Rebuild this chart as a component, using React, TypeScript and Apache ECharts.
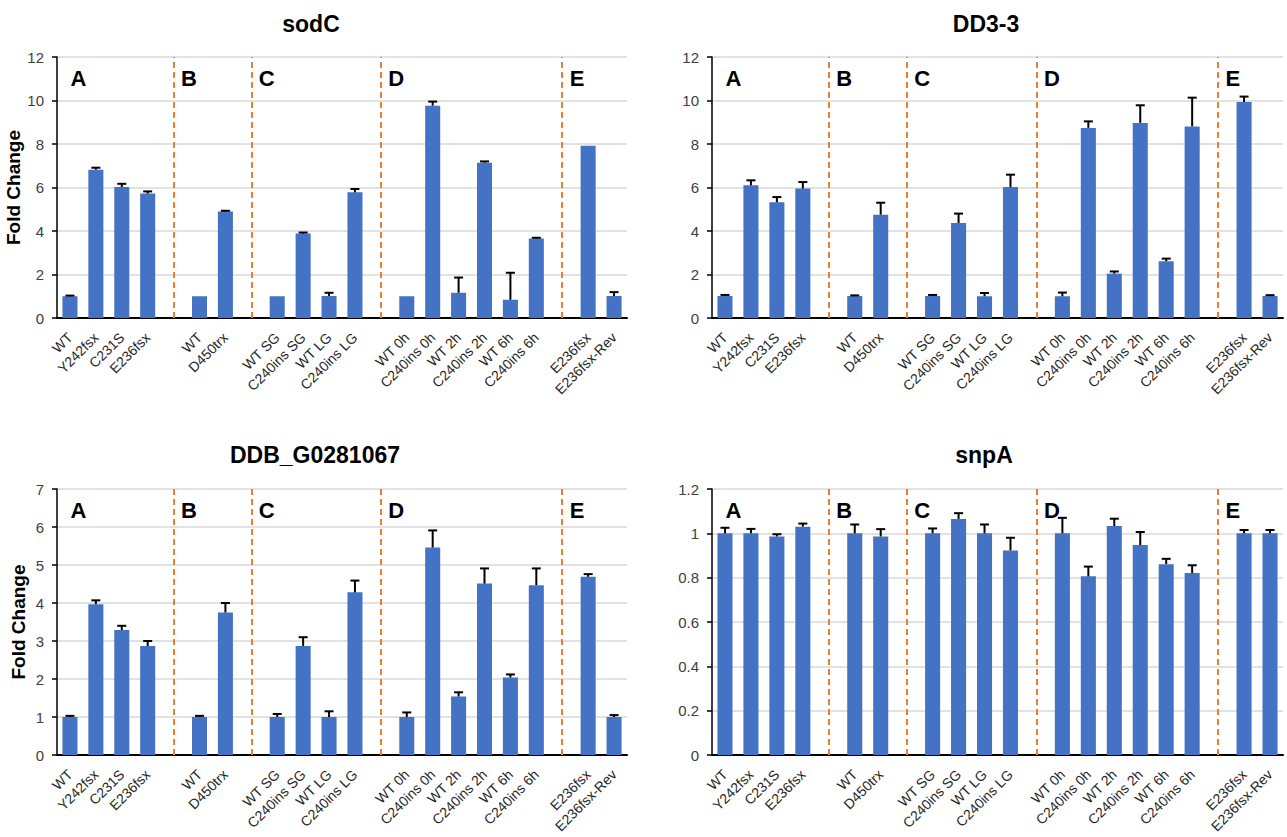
import React, { useEffect, useRef } from 'react';
import * as echarts from 'echarts';

const categories = ['WT', 'Y242fsx', 'C231S', 'E236fsx', '', 'WT', 'D450trx', '', 'WT SG', 'C240ins SG', 'WT LG', 'C240ins LG', '', 'WT 0h', 'C240ins 0h', 'WT 2h', 'C240ins 2h', 'WT 6h', 'C240ins 6h', '', 'E236fsx', 'E236fsx-Rev'];

const groupLetters = ['A', 'B', 'C', 'D', 'E'];
const groupLetterIndices = [0, 4, 7, 12, 19];
const dividerIndices = [4, 7, 12, 19];

const sodCValues = [1.0, 6.82, 6.02, 5.72, null, 1.0, 4.9, null, 1.0, 3.88, 1.01, 5.78, null, 1.0, 9.76, 1.16, 7.14, 0.84, 3.65, null, 7.92, 1.01];
const sodCErrors = [0.03, 0.09, 0.15, 0.1, null, 0, 0.03, null, 0, 0.05, 0.15, 0.15, null, 0, 0.19, 0.7, 0.06, 1.24, 0.04, null, 0, 0.18];

const dd33Values = [1.01, 6.1, 5.32, 5.95, null, 1.01, 4.75, null, 1.01, 4.37, 1.0, 6.02, null, 1.0, 8.74, 2.04, 8.97, 2.61, 8.81, null, 9.93, 1.01];
const dd33Errors = [0.05, 0.23, 0.24, 0.3, null, 0.03, 0.55, null, 0.05, 0.43, 0.15, 0.57, null, 0.17, 0.3, 0.1, 0.81, 0.12, 1.32, null, 0.25, 0.04];

const ddbValues = [1.0, 3.97, 3.29, 2.87, null, 1.0, 3.75, null, 1.0, 2.87, 1.0, 4.28, null, 1.0, 5.46, 1.54, 4.51, 2.04, 4.47, null, 4.69, 1.0];
const ddbErrors = [0.03, 0.1, 0.11, 0.13, null, 0.03, 0.25, null, 0.08, 0.23, 0.15, 0.31, null, 0.12, 0.45, 0.11, 0.4, 0.08, 0.44, null, 0.07, 0.05];

const snpAValues = [1.0, 1.0, 0.986, 1.03, null, 1.0, 0.986, null, 1.0, 1.065, 1.0, 0.923, null, 1.0, 0.806, 1.033, 0.947, 0.861, 0.821, null, 1.0, 1.0];
const snpAErrors = [0.025, 0.02, 0.01, 0.014, null, 0.04, 0.033, null, 0.022, 0.026, 0.04, 0.057, null, 0.07, 0.044, 0.033, 0.059, 0.024, 0.035, null, 0.015, 0.015];

const panelTitles = ['sodC', 'DD3-3', 'DDB_G0281067', 'snpA'];
const panelYMax = [12, 12, 7, 1.2];
const panelYInterval = [2, 2, 1, 0.2];

const FONT = "'Liberation Sans', Arial, sans-serif";

export default function App() {
  const ref = useRef<HTMLDivElement>(null);
  useEffect(() => {
    document.body.style.margin = '0';
    const chart = echarts.init(ref.current!, null, { renderer: 'svg' });
    const panelValues = [sodCValues, dd33Values, ddbValues, snpAValues];
    const panelErrors = [sodCErrors, dd33Errors, ddbErrors, snpAErrors];
    const grids = [
      { left: 57, top: 57, width: 570, height: 261, outerBoundsMode: 'none', containLabel: false },
      { left: 712, top: 57, width: 571, height: 261, outerBoundsMode: 'none', containLabel: false },
      { left: 57, top: 489, width: 570, height: 266, outerBoundsMode: 'none', containLabel: false },
      { left: 712, top: 489, width: 571, height: 266, outerBoundsMode: 'none', containLabel: false },
    ];
    const titlePos = [
      { left: 311, top: 12 },
      { left: 986, top: 12 },
      { left: 315, top: 443 },
      { left: 984, top: 443 },
    ];
    const xAxes: any[] = [];
    const yAxes: any[] = [];
    const series: any[] = [];
    for (let p = 0; p < 4; p++) {
      xAxes.push({
        type: 'category',
        gridIndex: p,
        data: categories,
        axisLine: { lineStyle: { color: '#000', width: 2 } },
        axisTick: { show: false },
        axisLabel: { interval: 0, rotate: 45, fontSize: 14, color: '#262626', fontFamily: FONT, margin: 17 },
        splitLine: { show: false },
      });
      yAxes.push({
        type: 'value',
        gridIndex: p,
        min: 0,
        max: panelYMax[p],
        interval: panelYInterval[p],
        name: p % 2 === 0 ? 'Fold Change' : '',
        nameLocation: 'middle',
        nameGap: 29,
        nameTextStyle: { fontSize: 19, fontWeight: 'bold', color: '#000', fontFamily: FONT },
        axisLine: { show: true, lineStyle: { color: '#000', width: 1.5 } },
        axisTick: { show: true, length: 5, lineStyle: { color: '#000', width: 1.5 } },
        axisLabel: { fontSize: 15, color: '#404040', fontFamily: FONT, margin: 13 },
        splitLine: { lineStyle: { color: '#d9d9d9', width: 1.5 } },
      });
      const vals = panelValues[p];
      const errs = panelErrors[p];
      series.push({
        type: 'bar',
        xAxisIndex: p,
        yAxisIndex: p,
        data: vals.map((v) => (v == null ? '-' : v)),
        barWidth: '58%',
        itemStyle: { color: '#4472C4' },
        markLine: {
          silent: true,
          symbol: ['none', 'none'],
          label: { show: false },
          lineStyle: { color: '#ED7D31', type: [6, 4], width: 2 },
          data: dividerIndices.map((d) => ({ xAxis: d })),
        },
        z: 2,
      });
      const errData: any[] = [];
      vals.forEach((v, i) => {
        const e = errs[i];
        if (v != null && e != null && e > 0) errData.push([i, v, v + e]);
      });
      series.push({
        type: 'custom',
        xAxisIndex: p,
        yAxisIndex: p,
        data: errData,
        encode: { x: 0, y: [1, 2] },
        z: 5,
        renderItem: (params: any, api: any) => {
          const x = api.value(0);
          const lo = api.coord([x, api.value(1)]);
          const hi = api.coord([x, api.value(2)]);
          return {
            type: 'group',
            children: [
              { type: 'line', shape: { x1: lo[0], y1: lo[1], x2: hi[0], y2: hi[1] }, style: { stroke: '#000', lineWidth: 2 } },
              { type: 'line', shape: { x1: hi[0] - 4.5, y1: hi[1], x2: hi[0] + 4.5, y2: hi[1] }, style: { stroke: '#000', lineWidth: 2 } },
            ],
          };
        },
      });
      series.push({
        type: 'scatter',
        xAxisIndex: p,
        yAxisIndex: p,
        symbolSize: 1,
        itemStyle: { color: '#fff', opacity: 0 },
        silent: true,
        z: 6,
        data: groupLetters.map((l, k) => ({
          value: [groupLetterIndices[k], panelYMax[p]],
          name: l,
          label: { distance: k === 0 ? 0 : 7 },
        })),
        label: {
          show: true,
          position: 'right',
          offset: [0, 21],
          formatter: (prm: any) => prm.name,
          fontSize: 22,
          fontWeight: 'bold',
          color: '#000000',
          opacity: 1,
          textBorderWidth: 0,
          fontFamily: FONT,
        },
      });
    }
    chart.setOption({
      animation: false,
      backgroundColor: '#fff',
      title: panelTitles.map((t, i) => ({
        text: t,
        left: titlePos[i].left,
        top: titlePos[i].top,
        textAlign: 'center',
        padding: 0,
        textStyle: { fontSize: 23, fontWeight: 'bold', color: '#000', fontFamily: FONT },
      })),
      grid: grids,
      xAxis: xAxes,
      yAxis: yAxes,
      series,
    });
    return () => chart.dispose();
  }, []);
  return <div ref={ref} style={{ position: 'absolute', left: 0, top: 0, width: 1287, height: 837 }} />;
}
